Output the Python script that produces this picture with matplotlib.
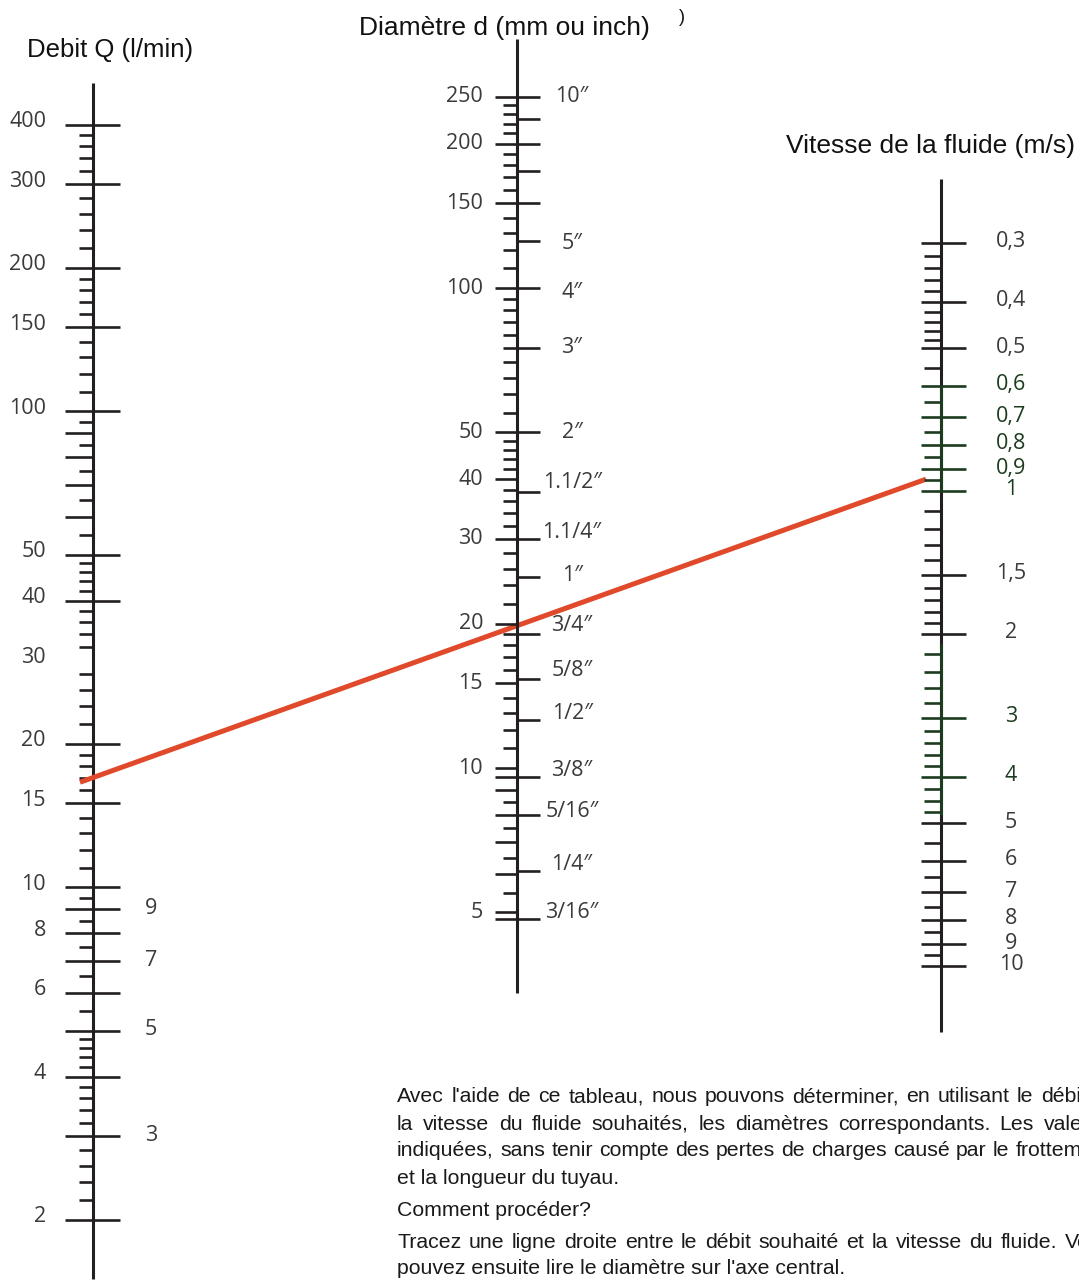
import numpy as np
import matplotlib
matplotlib.use("Agg")
import matplotlib.pyplot as plt
from matplotlib.transforms import offset_copy

W, H = 1079, 1282

# debit Q (l/min)
q_labels_left = [400, 300, 200, 150, 100, 50, 40, 30, 20, 15, 10, 8, 6, 4, 2]
q_labels_right = [9, 7, 5, 3]
q_major = [400, 300, 200, 150, 100, 50, 40, 20, 15, 10, 9, 8, 7, 6, 5, 4, 3, 2]
q_medium = [90, 80, 70, 60]
q_minor = [380, 360, 340, 320, 280, 260, 240, 220, 190, 180, 170, 160,
           140, 130, 120, 110, 95, 85, 75, 65, 55, 48, 46, 44, 42,
           38, 36, 34, 32, 28, 26, 24, 22, 19, 18, 17, 16, 14, 13, 12, 11,
           9.5, 8.5, 7.5, 6.5, 5.5, 4.8, 4.6, 4.4, 4.2, 3.8, 3.6, 3.4, 3.2,
           2.8, 2.6, 2.4, 2.2]
q_range = [1.5, 490]

# diametre d (mm / inch)
d_labels = [250, 200, 150, 100, 50, 40, 30, 20, 15, 10, 5]
d_medium = [9.6, 9, 8, 7, 6, 4.85]
d_minor = [240, 230, 220, 210, 190, 180, 170, 160, 140, 130, 120, 110,
           95, 90, 85, 80, 75, 70, 65, 60, 55, 48, 46, 44, 42,
           38, 36, 34, 32, 28, 26, 24, 22, 19, 18, 17, 16, 14, 13, 12, 11,
           8.5, 7.5, 6.5, 5.5]
inch_labels = ['10″', '5″', '4″', '3″', '2″', '1.1/2″', '1.1/4″', '1″',
               '3/4″', '5/8″', '1/2″', '3/8″', '5/16″', '1/4″', '3/16″']
inch_mm = [250, 125, 100, 75, 50, 37.5, 30, 25, 19, 15.3, 12.6, 9.6, 8, 6.1, 4.85]
inch_label_mm = [250, 124, 98, 75, 50, 39.3, 31, 25.2, 19.8, 16, 13, 9.9, 8.1, 6.3, 5]
d_right_extra = [225, 200, 175, 150]
d_range = [3.4, 330]

# vitesse v (m/s)
v_labels = [0.3, 0.4, 0.5, 0.6, 0.7, 0.8, 0.9, 1, 1.5, 2, 3, 4, 5, 6, 7, 8, 9, 10]
v_minor = [0.32, 0.34, 0.36, 0.38, 0.42, 0.44, 0.46, 0.48, 0.55, 0.65, 0.75,
           0.85, 0.95, 1.1, 1.2, 1.3, 1.4, 1.6, 1.7, 1.8, 1.9, 2.2, 2.4, 2.6,
           2.8, 3.2, 3.4, 3.6, 3.8, 4.25, 4.5, 4.75, 5.5, 6.5, 7.5, 8.5, 9.5]
v_green_labels = [0.6, 0.7, 0.8, 0.9, 1, 3, 4]
v_range = [0.22, 13.8]

# example reading
q_sel = 17
v_sel = 0.92

text_lines = [
    "Avec l'aide de ce tableau, nous pouvons déterminer, en utilisant le débit et",
    "la vitesse du fluide souhaités, les diamètres correspondants. Les valeurs",
    "indiquées, sans tenir compte des pertes de charges causé par le frottement",
    "et la longueur du tuyau.",
    "Comment procéder?",
    "Tracez une ligne droite entre le débit souhaité et la vitesse du fluide. Vous",
    "pouvez ensuite lire le diamètre sur l'axe central.",
]
justified = [True, True, True, False, False, True, False]

INK = '#231f20'
LBL = '#3a3a3a'
GREEN = '#1d3b1f'
LW_AX = 2.2
LW_TK = 1.9
NUMFONT = ['Open Sans', 'DejaVu Sans']
NUMSIZE = 15.5

fig = plt.figure(figsize=(W / 100, H / 100), dpi=100)


def log_axes(anchor, anchor_px, px_per_dec, downward=False):
    # one full-figure axes per nomogram scale, log y, x in pixels
    ax = fig.add_axes([0, 0, 1, 1])
    ax.set_xlim(0, W)
    ax.set_yscale('log')
    a = np.log10(anchor)
    if downward:
        top = a - anchor_px / px_per_dec
        bot = a + (H - anchor_px) / px_per_dec
    else:
        top = a + anchor_px / px_per_dec
        bot = a - (H - anchor_px) / px_per_dec
    ax.set_ylim(10 ** bot, 10 ** top)
    ax.axis('off')
    return ax


def lab(ax, x, val, s, ha, dy=0, color=LBL, size=NUMSIZE):
    tr = offset_copy(ax.transData, fig=fig, y=dy, units='dots')
    ax.text(x, val, s, ha=ha, va='center', fontsize=size, color=color,
            family=NUMFONT, transform=tr)


# ---- Q axis
axQ = log_axes(2, 1220, 476)
xq = 93
axQ.vlines(xq, q_range[0], q_range[1], color=INK, lw=LW_AX)
axQ.hlines(q_major, xq - 28, xq + 27, color=INK, lw=LW_TK)
axQ.hlines(q_medium, xq - 28, xq, color=INK, lw=LW_TK)
axQ.hlines(q_minor, xq - 14, xq, color=INK, lw=LW_TK)
for q in q_labels_left:
    lab(axQ, 46, q, str(q), 'right', dy=3)
for q in q_labels_right:
    lab(axQ, 151, q, str(q), 'center', dy=1)

# ---- d axis
axD = log_axes(10, 768, 480)
xd = 517
axD.vlines(xd, d_range[0], d_range[1], color=INK, lw=LW_AX)
axD.hlines(d_labels, xd - 22, xd, color=INK, lw=LW_TK)
axD.hlines(d_medium, xd - 22, xd, color=INK, lw=LW_TK)
axD.hlines(d_minor, xd - 14, xd, color=INK, lw=LW_TK)
axD.hlines(inch_mm, xd, xd + 23, color=INK, lw=LW_TK)
axD.hlines(d_right_extra, xd, xd + 23, color=INK, lw=LW_TK)
for d in d_labels:
    lab(axD, 483, d, str(d), 'right')
for s, d in zip(inch_labels, inch_label_mm):
    lab(axD, 572, d, s, 'center')

# ---- v axis (increasing downward)
axV = log_axes(1, 491, 475, downward=True)
xv = 941
axV.vlines(xv, v_range[0], v_range[1], color=INK, lw=LW_AX)
axV.vlines(xv, 0.6, 1.0, color=GREEN, lw=LW_AX)
axV.vlines(xv, 2.1, 4.8, color=GREEN, lw=LW_AX)
for v in v_labels:
    c = GREEN if (0.6 <= v <= 1 or 3 <= v <= 4) else INK
    axV.hlines(v, xv - 20, xv + 25, color=c, lw=LW_TK)
for v in v_minor:
    c = GREEN if (0.6 <= v <= 1 or 2.1 <= v <= 4.8) else INK
    axV.hlines(v, xv - 17, xv, color=c, lw=LW_TK)
for v in v_labels:
    s = ('%g' % v).replace('.', ',')
    lab(axV, 1011, v, s, 'center', dy=1,
        color=GREEN if v in v_green_labels else LBL)

# ---- red reading line (through Q and v, extended in pixel space)
p1 = axQ.transData.transform((xq, q_sel))
p2 = axV.transData.transform((xv, v_sel))
slope = (p2[1] - p1[1]) / (p2[0] - p1[0])
e1 = (80, p1[1] + slope * (80 - p1[0]))
e2 = (926, p1[1] + slope * (926 - p1[0]))
pts = axQ.transData.inverted().transform([e1, e2])
axQ.plot(pts[:, 0], pts[:, 1], color='#e04a2b', lw=3.6, solid_capstyle='butt',
         zorder=5)

# ---- titles
TFONT = 'Liberation Sans'
fig.text(110 / W, 1 - 50 / H, 'Debit Q (l/min)', ha='center', va='center',
         fontsize=18.5, family=TFONT, color='#111111')
fig.text(504 / W, 1 - 28 / H, 'Diamètre d (mm ou inch)', ha='center',
         va='center', fontsize=19, family=TFONT, color='#111111')
fig.text(930 / W, 1 - 146 / H, 'Vitesse de la fluide (m/s)', ha='center',
         va='center', fontsize=19, family=TFONT, color='#111111')
fig.text(682 / W, 1 - 18 / H, ')', ha='center', va='center', fontsize=13,
         family=TFONT, color='#111111')

# ---- explanation paragraph (justified lines run past the right edge)
renderer = fig.canvas.get_renderer()
x_left, x_right = 397, 1112
line_y = [1097, 1124, 1150, 1178, 1210, 1242, 1268]
BODY = dict(fontsize=15.3, family=TFONT, color='#1a1a1a', va='center')
for line, just, yy in zip(text_lines, justified, line_y):
    yf = 1 - yy / H
    if not just:
        fig.text(x_left / W, yf, line, ha='left', **BODY)
        continue
    words = line.split(' ')
    widths = []
    for w in words:
        t = fig.text(0, 0, w, **BODY)
        widths.append(t.get_window_extent(renderer).width)
        t.remove()
    gap = (x_right - x_left - sum(widths)) / (len(words) - 1)
    x = x_left
    for w, wd in zip(words, widths):
        fig.text(x / W, yf, w, ha='left', **BODY)
        x += wd + gap

fig.savefig('out.png', dpi=100, facecolor='white')
